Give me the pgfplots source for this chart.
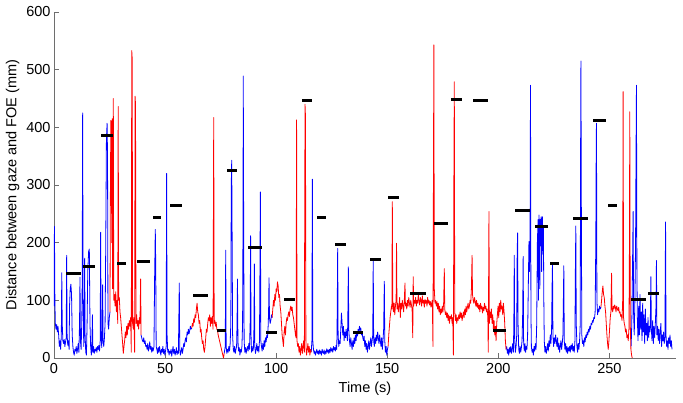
\documentclass[border=0pt]{standalone}
\usepackage{pgfplots}
\pgfplotsset{compat=1.18}
\usepackage{fontspec}
\setmainfont{Liberation Sans}
\definecolor{axgray}{RGB}{110,110,110}
\begin{document}
\begin{tikzpicture}
\begin{axis}[
  scale only axis, width=622pt, height=346pt,
  xmin=0, xmax=280, ymin=0, ymax=600,
  xtick={0,50,...,250}, ytick={0,100,...,600},
  axis x line*=bottom, axis y line*=left,
  axis line style={-, draw=axgray, line width=0.6pt},
  tick style={draw=axgray, line width=0.6pt},
  tick align=inside, major tick length=5pt,
  /pgf/number format/assume math mode=true,
  tick label style={font=\fontsize{14.5}{17}\selectfont, text=black},
  xticklabel style={yshift=-2pt},
  label style={font=\fontsize{14.5}{17}\selectfont},
  xlabel={Time (s)}, ylabel={Distance between gaze and FOE (mm)},
  xlabel style={yshift=-1pt},
  unbounded coords=jump,
  every axis plot/.append style={line width=0.8pt, line join=round},
]
% ---------- blue segments ----------
\addplot[blue] coordinates {(0,90) (0.2,228) (0.4,100) (0.6,60) (0.9,50) (1.2,58) (1.5,45) (1.8,55) (2.1,40) (2.4,20) (2.7,30) (3.0,15) (3.3,40) (3.5,148) (3.7,60) (4.0,30) (4.3,25) (4.6,32) (4.9,20) (5.2,28) (5.5,35) (5.7,178) (5.9,40) (6.2,22) (6.5,30) (6.8,15) (7.0,90) (7.3,120) (7.6,128) (7.9,110) (8.2,40) (8.5,20) (8.8,10) (9.1,5) (9.4,15) (9.7,12) (10.0,20) (10.3,8) (10.6,15) (10.9,25) (11.2,10) (11.5,60) (11.7,140) (11.9,30) (12.2,15) (12.5,60) (12.7,130) (12.9,425) (13.1,100) (13.4,20) (13.6,50) (13.8,173) (14.0,40) (14.3,10) (14.6,5) (14.9,60) (15.2,150) (15.6,185) (15.9,189) (16.2,60) (16.5,20) (16.8,5) (17.0,15) (17.3,75) (17.5,10) (17.8,20) (18.1,8) (18.4,15) (18.7,12) (19.0,18) (19.3,10) (19.6,20) (19.9,15) (20.2,22) (20.5,12) (20.8,30) (21.0,218) (21.2,40) (21.5,18) (21.7,50) (21.9,127) (22.1,30) (22.4,20) (22.7,35) (23.0,60) (23.3,200) (23.6,380) (23.9,407) (24.1,350) (24.3,60) (24.6,50) (24.9,70) (25.2,80)};
\addplot[blue] coordinates {(39.2,40) (39.5,35) (39.8,30) (40.1,28) (40.4,35) (40.7,25) (41.0,30) (41.3,20) (41.6,22) (41.9,15) (42.2,25) (42.5,12) (42.8,18) (43.1,28) (43.4,15) (43.7,20) (44.0,10) (44.3,18) (44.6,12) (45.0,20) (45.3,140) (45.6,223) (45.8,160) (46.0,20) (46.3,15) (46.6,8) (46.9,18) (47.2,10) (47.5,20) (47.8,12) (48.1,5) (48.4,15) (48.7,10) (49.0,20) (49.3,8) (49.6,15) (49.9,5) (50.2,12) (50.5,20) (50.7,320) (50.9,40) (51.2,10) (51.5,15) (51.8,5) (52.1,12) (52.4,8) (52.7,15) (53.0,3) (53.3,12) (53.6,20) (53.9,8) (54.2,15) (54.5,5) (54.8,10) (55.1,18) (55.4,6) (55.7,12) (56.0,8) (56.4,130) (56.6,15) (56.9,5) (57.2,12) (57.5,18) (57.8,8) (58.1,15) (58.4,25) (58.7,20) (59.0,30) (59.3,35) (59.6,28) (59.9,45) (60.2,40) (60.5,50) (60.8,42) (61.1,48) (61.4,55) (61.7,50) (62.0,52)};
\addplot[blue] coordinates {(76.6,8) (76.9,15) (77.1,20) (77.3,187) (77.5,20) (77.8,8) (78.1,15) (78.4,10) (78.7,20) (79.0,12) (79.3,25) (79.6,60) (79.8,300) (80.0,343) (80.2,200) (80.4,40) (80.7,15) (81.0,10) (81.3,20) (81.6,8) (81.9,15) (82.2,20) (82.4,60) (82.6,137) (82.8,30) (83.1,12) (83.4,18) (83.7,5) (84.0,15) (84.3,10) (84.6,20) (84.9,60) (85.1,250) (85.2,489) (85.4,200) (85.6,30) (85.9,10) (86.2,18) (86.5,8) (86.8,15) (87.1,20) (87.4,12) (87.7,25) (88.0,15) (88.3,60) (88.5,212) (88.7,40) (88.9,10) (89.2,20) (89.5,12) (89.8,18) (90.0,50) (90.2,163) (90.4,20) (90.7,8) (91.0,15) (91.3,25) (91.6,12) (91.9,20) (92.2,10) (92.5,30) (92.7,150) (92.9,288) (93.1,30) (93.4,20) (93.7,12) (94.0,25) (94.3,15) (94.6,30) (94.9,20) (95.2,35) (95.5,28) (95.8,40) (96.1,35) (96.4,55) (96.6,80) (96.8,139) (97.0,70) (97.3,60) (97.6,65) (97.9,75) (98.2,70)};
\addplot[blue] coordinates {(115.8,10) (116.1,30) (116.3,310) (116.5,30) (116.8,15) (117.1,8) (117.4,12) (117.7,5) (118.0,10) (118.3,15) (118.6,8) (118.9,12) (119.2,6) (119.5,14) (119.8,8) (120.1,12) (120.4,5) (120.7,15) (121.0,10) (121.3,8) (121.6,14) (121.9,6) (122.2,12) (122.5,8) (122.8,16) (123.1,10) (123.4,14) (123.7,8) (124.0,15) (124.3,10) (124.6,18) (124.9,12) (125.2,16) (125.5,10) (125.8,20) (126.1,14) (126.4,18) (126.7,12) (127.0,22) (127.3,15) (127.5,80) (127.7,190) (127.9,40) (128.2,20) (128.5,30) (128.8,25) (129.1,50) (129.4,78) (129.7,60) (130.0,40) (130.3,55) (130.6,30) (130.9,45) (131.2,35) (131.5,50) (131.8,40) (132.1,30) (132.3,80) (132.5,158) (132.7,50) (133.0,30) (133.3,20) (133.6,35) (133.9,25) (134.2,15) (134.5,30) (134.8,20) (135.1,35) (135.4,25) (135.7,40) (136.0,30) (136.3,45) (136.6,38) (136.9,50) (137.2,42) (137.5,55) (137.8,48) (138.1,52) (138.4,40) (138.7,45) (139.0,35) (139.3,30) (139.6,38) (139.9,20) (140.2,30) (140.5,15) (140.8,25) (141.1,10) (141.4,20) (141.7,30) (142.0,15) (142.3,25) (142.6,35) (142.9,20) (143.2,30) (143.5,40) (143.7,171) (143.9,30) (144.2,20) (144.5,35) (144.8,25) (145.1,40) (145.4,30) (145.7,45) (146.0,35) (146.3,25) (146.6,40) (146.9,30) (147.2,20) (147.5,35) (147.8,15) (148.1,30) (148.4,50) (148.7,133) (148.9,30) (149.2,10) (149.5,20) (149.8,5) (150.1,15) (150.4,20)};
\addplot[blue] coordinates {(203.5,15) (203.8,20) (204.1,8) (204.4,15) (204.7,5) (205.0,18) (205.3,10) (205.6,20) (205.9,8) (206.2,15) (206.5,25) (206.8,10) (207.0,60) (207.2,178) (207.4,30) (207.7,10) (208.0,20) (208.3,40) (208.5,180) (208.7,217) (208.9,60) (209.2,15) (209.5,8) (209.8,20) (210.1,10) (210.4,18) (210.7,30) (211.0,80) (211.2,176) (211.4,30) (211.7,12) (212.0,25) (212.3,10) (212.6,20) (212.9,15) (213.2,40) (213.5,120) (213.8,202) (214.0,150) (214.3,200) (214.5,473) (214.7,80) (214.9,20) (215.2,10) (215.5,15) (215.8,5) (216.1,20) (216.4,12) (216.7,25) (217.0,15) (217.3,60) (217.6,200) (217.9,240) (218.1,100) (218.3,248) (218.5,230) (218.7,120) (218.9,240) (219.1,200) (219.3,245) (219.5,150) (219.7,235) (219.9,245) (220.1,180) (220.3,230) (220.5,100) (220.7,30) (221.0,10) (221.3,20) (221.6,8) (221.9,15) (222.2,25) (222.5,12) (222.8,30) (223.1,20) (223.4,40) (223.7,25) (224.0,50) (224.2,120) (224.4,165) (224.6,40) (224.9,20) (225.2,35) (225.5,25) (225.8,40) (226.1,30) (226.4,20) (226.7,35) (227.0,15) (227.3,25) (227.6,10) (227.9,20) (228.2,30) (228.5,15) (228.8,25) (229.1,40) (229.3,100) (229.5,160) (229.7,30) (230.0,15) (230.3,25) (230.6,10) (230.9,20) (231.2,8) (231.5,18) (231.8,12) (232.1,20) (232.4,10) (232.7,22) (233.0,15) (233.3,25) (233.6,12) (233.9,20) (234.2,10) (234.5,30) (234.7,150) (234.9,229) (235.1,60) (235.4,20) (235.7,10) (236.0,25) (236.3,15) (236.6,30) (236.9,60) (237.0,300) (237.2,515) (237.4,250) (237.6,40) (237.9,25) (238.2,30) (238.5,20) (238.8,35) (239.1,28) (239.4,40) (239.7,35) (240.0,45) (240.3,40) (240.6,50) (240.9,45) (241.2,55) (241.5,50) (241.8,60) (242.1,58) (242.4,65) (242.7,62) (243.0,70) (243.3,68) (243.6,80) (243.9,200) (244.1,380) (244.2,407) (244.4,100) (244.7,75) (245.0,85) (245.3,80) (245.6,90) (245.9,85) (246.2,88)};
\addplot[blue] coordinates {(259.8,20) (260.1,60) (260.4,150) (260.7,254) (260.9,80) (261.2,40) (261.5,100) (261.8,200) (262.0,350) (262.2,473) (262.4,150) (262.6,70) (262.9,30) (263.2,90) (263.5,40) (263.8,110) (264.1,50) (264.4,80) (264.7,30) (265.0,95) (265.3,45) (265.6,75) (265.9,25) (266.2,85) (266.5,40) (266.8,60) (267.1,30) (267.4,70) (267.7,35) (268.0,55) (268.3,45) (268.5,80) (268.7,141) (268.9,50) (269.2,30) (269.5,65) (269.8,25) (270.1,55) (270.4,35) (270.7,60) (271.0,90) (271.2,169) (271.4,40) (271.7,55) (272.0,30) (272.3,50) (272.6,25) (272.9,45) (273.2,60) (273.5,20) (273.8,40) (274.1,30) (274.4,45) (274.7,25) (275.0,35) (275.1,100) (275.3,236) (275.5,40) (275.8,20) (276.1,30) (276.4,15) (276.7,35) (277.0,25) (277.3,40) (277.6,20) (277.9,30) (278.2,15)};
% ---------- red segments ----------
\addplot[red] coordinates {(25.2,80) (25.4,300) (25.6,412) (25.8,410) (26.0,200) (26.2,415) (26.4,120) (26.7,450) (26.9,100) (27.2,110) (27.5,90) (27.8,115) (28.1,80) (28.4,100) (28.7,60) (28.9,436) (29.1,100) (29.4,105) (29.7,80) (30.0,70) (30.3,55) (30.6,40) (30.9,25) (31.2,8) (31.5,20) (31.8,30) (32.1,45) (32.4,35) (32.7,55) (33.0,40) (33.3,60) (33.6,50) (33.9,65) (34.2,55) (34.5,70) (34.8,10) (35.0,533) (35.2,520) (35.4,60) (35.7,50) (36.0,70) (36.3,10) (36.5,454) (36.7,440) (36.9,60) (37.2,75) (37.5,55) (37.8,65) (38.1,50) (38.4,70) (38.7,60) (39.0,137) (39.2,40)};
\addplot[red] coordinates {(62.0,52) (62.3,60) (62.6,55) (62.9,68) (63.2,62) (63.5,75) (63.8,70) (64.1,85) (64.4,95) (64.7,80) (65.0,75) (65.3,60) (65.6,65) (65.9,45) (66.2,50) (66.5,35) (66.8,25) (67.1,30) (67.4,15) (67.7,10) (68.0,20) (68.3,35) (68.6,50) (68.9,45) (69.2,60) (69.5,70) (69.8,65) (70.1,75) (70.4,55) (70.7,70) (71.0,60) (71.3,72) (71.6,50) (71.9,417) (72.1,60) (72.4,65) (72.7,55) (73.0,62) (73.3,50) (73.6,48) (73.9,40) (74.2,35) (74.5,30) (74.8,25) (75.1,20) (75.4,15) (75.7,10) (76.0,5) (76.3,0) (76.6,8)};
\addplot[red] coordinates {(98.2,70) (98.5,85) (98.8,100) (99.1,90) (99.4,110) (99.7,100) (100.0,120) (100.3,115) (100.6,132) (100.9,125) (101.2,105) (101.5,110) (101.8,90) (102.1,80) (102.4,60) (102.7,40) (103.0,30) (103.3,20) (103.6,45) (103.9,55) (104.2,40) (104.5,60) (104.8,70) (105.1,65) (105.4,75) (105.7,80) (106.0,72) (106.3,85) (106.6,90) (106.9,82) (107.2,88) (107.5,75) (107.8,70) (108.1,60) (108.4,50) (108.7,40) (109.0,35) (109.2,413) (109.4,30) (109.7,20) (110.0,25) (110.3,10) (110.6,20) (110.9,5) (111.2,15) (111.5,25) (111.8,8) (112.1,20) (112.4,30) (112.7,10) (113.0,440) (113.2,420) (113.4,20) (113.7,5) (114.0,15) (114.3,25) (114.6,10) (114.9,20) (115.2,5) (115.5,15) (115.8,10)};
\addplot[red] coordinates {(150.4,20) (150.7,40) (151.0,55) (151.3,70) (151.6,80) (151.9,90) (152.1,85) (152.3,271) (152.5,100) (152.8,80) (153.1,95) (153.4,75) (153.7,90) (154.0,100) (154.2,199) (154.4,85) (154.7,95) (155.0,80) (155.3,90) (155.6,105) (155.9,70) (156.2,95) (156.5,85) (156.8,100) (157.1,90) (157.4,80) (157.7,100) (158.0,130) (158.2,90) (158.5,95) (158.8,85) (159.1,100) (159.4,90) (159.7,105) (160.0,95) (160.3,88) (160.6,100) (160.9,92) (161.2,85) (161.5,35) (161.7,141) (161.9,90) (162.2,100) (162.5,95) (162.8,105) (163.1,90) (163.4,100) (163.7,95) (164.0,110) (164.3,98) (164.6,92) (164.9,105) (165.2,100) (165.5,90) (165.8,108) (166.1,95) (166.4,100) (166.7,88) (167.0,102) (167.3,95) (167.6,100) (167.9,90) (168.2,105) (168.5,95) (168.8,100) (169.1,92) (169.4,98) (169.7,88) (170.0,95) (170.3,100) (170.6,20) (170.8,300) (171.0,543) (171.2,120) (171.5,95) (171.8,100) (172.1,90) (172.4,98) (172.7,85) (173.0,95) (173.3,80) (173.6,90) (173.9,75) (174.2,85) (174.5,78) (174.8,90) (175.1,80) (175.4,95) (175.7,155) (175.9,85) (176.2,75) (176.5,80) (176.8,70) (177.1,78) (177.4,65) (177.7,75) (178.0,60) (178.3,72) (178.6,68) (178.9,75) (179.2,60) (179.5,70) (179.8,5) (180.0,300) (180.2,479) (180.4,80) (180.7,65) (181.0,75) (181.3,60) (181.6,70) (181.9,65) (182.2,75) (182.5,68) (182.8,80) (183.1,70) (183.4,78) (183.7,65) (184.0,72) (184.3,80) (184.6,70) (184.9,85) (185.2,75) (185.5,90) (185.8,80) (186.1,88) (186.4,95) (186.7,85) (187.0,90) (187.3,100) (187.6,95) (187.9,120) (188.2,178) (188.4,110) (188.7,100) (189.0,95) (189.3,105) (189.6,98) (189.9,90) (190.2,100) (190.5,88) (190.8,95) (191.1,85) (191.4,92) (191.7,80) (192.0,95) (192.3,85) (192.6,90) (192.9,78) (193.2,88) (193.5,82) (193.8,95) (194.1,85) (194.4,90) (194.7,80) (195.0,85) (195.3,70) (195.5,10) (195.8,254) (196.0,60) (196.3,80) (196.6,70) (196.9,85) (197.2,60) (197.5,75) (197.8,50) (198.1,65) (198.4,40) (198.7,55) (199.0,30) (199.3,60) (199.6,75) (199.9,90) (200.2,70) (200.5,95) (200.8,80) (201.1,100) (201.4,85) (201.7,90) (202.0,75) (202.3,95) (202.6,80) (202.9,60) (203.2,30) (203.5,15)};
\addplot[red] coordinates {(246.2,88) (246.5,100) (246.8,115) (247.1,125) (247.4,110) (247.7,105) (248.0,90) (248.3,80) (248.6,60) (248.9,40) (249.2,25) (249.5,15) (249.8,30) (250.1,50) (250.4,70) (250.7,80) (251.0,147) (251.2,85) (251.5,80) (251.8,90) (252.1,85) (252.4,92) (252.7,88) (253.0,80) (253.3,90) (253.6,85) (253.9,82) (254.2,88) (254.5,78) (254.8,80) (255.1,72) (255.4,75) (255.7,65) (256.0,100) (256.2,462) (256.4,70) (256.7,60) (257.0,55) (257.3,45) (257.6,50) (257.9,35) (258.2,40) (258.5,30) (258.8,50) (259.0,150) (259.2,427) (259.4,60) (259.7,15) (260.0,5) (260.3,0)};
% ---------- black mean markers ----------
\addplot[black, line width=3pt, line cap=butt] coordinates {
(5.5,147) (12.2,147) (12.2,nan)
(13.0,159) (18.5,159) (18.5,nan)
(21.2,385) (26.6,385) (26.6,nan)
(28.4,164) (32.4,164) (32.4,nan)
(37.4,167) (43.3,167) (43.3,nan)
(44.6,244) (48.2,244) (48.2,nan)
(52.3,265) (57.6,265) (57.6,nan)
(62.6,109) (69.4,109) (69.4,nan)
(73.4,47) (77.5,47) (77.5,nan)
(78.0,326) (82.4,326) (82.4,nan)
(87.4,192) (93.7,192) (93.7,nan)
(95.5,45) (100.5,45) (100.5,nan)
(103.6,102) (108.6,102) (108.6,nan)
(111.7,447) (116.2,447) (116.2,nan)
(118.5,244) (122.5,244) (122.5,nan)
(126.6,196) (131.5,196) (131.5,nan)
(134.7,45) (139.2,45) (139.2,nan)
(142.3,170) (147.3,170) (147.3,nan)
(150.5,279) (155.4,279) (155.4,nan)
(160.4,112) (167.6,112) (167.6,nan)
(171.2,233) (177.5,233) (177.5,nan)
(178.8,448) (183.8,448) (183.8,nan)
(188.7,447) (195.5,447) (195.5,nan)
(197.7,47) (203.6,47) (203.6,nan)
(207.7,256) (214.4,256) (214.4,nan)
(216.7,228) (222.5,228) (222.5,nan)
(223.4,164) (227.5,164) (227.5,nan)
(233.8,242) (240.5,242) (240.5,nan)
(242.8,411) (248.6,411) (248.6,nan)
(249.5,264) (253.6,264) (253.6,nan)
(259.9,102) (266.7,102) (266.7,nan)
(267.6,112) (272.5,112)
};
\end{axis}
\pgfresetboundingbox
\useasboundingbox (-54pt,-44pt) rectangle (629pt,358pt);
\end{tikzpicture}
\end{document}
